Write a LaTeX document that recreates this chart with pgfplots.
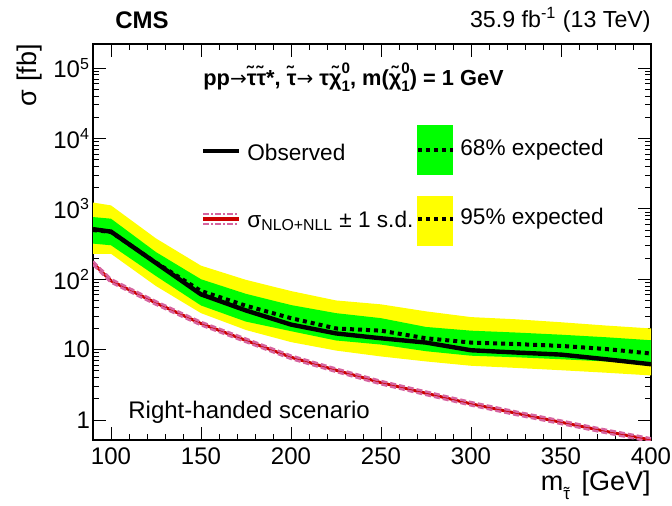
\documentclass[border=0pt]{standalone}
\usepackage{fontspec}
\setmainfont{Liberation Sans}
\newfontfamily\arrowfont{DejaVu Sans}
\usepackage{pgfplots}
\pgfplotsset{compat=1.18}
\usepgfplotslibrary{fillbetween}
\usepackage{pgfplotstable}

\definecolor{band68}{RGB}{0,255,0}
\definecolor{band95}{RGB}{255,255,0}
\definecolor{theo}{RGB}{204,0,0}
\definecolor{theoband}{RGB}{214,100,160}

\newcommand\fs[1]{\fontsize{#1}{#1}\selectfont}
% stacked super/subscript, as in chi^0_1
\newcommand\supsub[2]{\raisebox{-3.2pt}{\fs{7.6}\shortstack[l]{#1\\[0.6pt]#2}}}
% tau with a tilde over it, for the axis subscript
\newcommand\tildetau{\ooalign{τ\cr\hidewidth\raisebox{-0.05em}{˜}\hidewidth\cr}}
\newcommand\arr{{\arrowfont\mdseries\fs{10}→}}

% limits: observed, expected and the 68%/95% expected bands
\pgfplotstableread{
m    obs   exp   up1   dn1   up2   dn2
90   515   500   765   321   1230  230
100  475   470   725   304   1120  230
125  170   172   243   111   380   80
150  61    68    100   42.4  156   33
175  36    42    62    25    98    19
200  22.7  28    43    18.3  68    12.8
225  17    20    33    13.5  50    9.7
250  14.5  18.6  28    11.8  44    8
275  12.6  14.5  21    9.5   35    6.8
300  9.8   12.6  18.6  8.2   29    5.9
325  9.1   12    17.5  7.8   27    5.5
350  8.5   11.3  16.3  7.3   24.5  5.1
375  7.3   10.2  15    6.8   22    4.7
400  6.2   8.8   13.6  6.3   20    4.3
}\limits

% NLO+NLL cross section with its +-1 s.d. band
\pgfplotstableread{
m    xs     up     dn
90   170    180    161
100  95     100.5  89.8
125  46     48.6   43.5
150  23.5   24.8   22.2
175  13.5   14.3   12.8
200  7.8    8.24   7.38
225  5.1    5.39   4.83
250  3.4    3.59   3.22
275  2.4    2.54   2.27
300  1.7    1.80   1.61
325  1.25   1.32   1.18
350  0.93   0.983  0.880
375  0.69   0.729  0.653
400  0.52   0.550  0.492
}\theory

\begin{document}
\begin{tikzpicture}
\begin{axis}[
  name=ax,
  at={(0,0)}, anchor=south west,
  scale only axis,
  width=279pt, height=198pt,
  ymode=log,
  xmin=90, xmax=400,
  ymin=0.52, ymax=2.2e5,
  xtick={100,150,...,400},
  minor x tick num=4,
  ytick={1,10,100,1000,10000,100000},
  yticklabels={1,10,10\textsuperscript{2},10\textsuperscript{3},10\textsuperscript{4},10\textsuperscript{5}},
  tick align=inside,
  tick pos=both,
  major tick length=6.5pt,
  minor tick length=3.2pt,
  every tick/.style={black, line width=0.5pt},
  axis line style={line width=0.8pt},
  /pgf/number format/assume math mode=true,
  ticklabel style={font=\fs{12}},
  xticklabel style={yshift=-0.5pt},
  yticklabel style={xshift=2pt},
  clip=true,
]
\addplot[name path=u2, draw=none] table[x=m, y=up2] {\limits};
\addplot[name path=d2, draw=none] table[x=m, y=dn2] {\limits};
\addplot[band95, draw=none] fill between[of=u2 and d2];
\addplot[name path=u1, draw=none] table[x=m, y=up1] {\limits};
\addplot[name path=d1, draw=none] table[x=m, y=dn1] {\limits};
\addplot[band68, draw=none] fill between[of=u1 and d1];
\addplot[black, line width=2pt, dash pattern=on 2pt off 2pt] table[x=m, y=exp] {\limits};
\addplot[black, line width=2.2pt] table[x=m, y=obs] {\limits};
\addplot[theo, line width=1.5pt] table[x=m, y=xs] {\theory};
\addplot[theoband, line width=1.2pt, dash pattern=on 3pt off 1.5pt] table[x=m, y=up] {\theory};
\addplot[theoband, line width=1.2pt, dash pattern=on 3pt off 1.5pt] table[x=m, y=dn] {\theory};
\end{axis}

% annotations and legend, positioned on a grid of half-point units
\begin{scope}[shift={(0,198pt)}, x=0.5pt, y=-0.5pt, shift={(-93,-44)}]
  \node[anchor=base west, font=\bfseries\fs{12}, inner sep=0] at (115,28) {CMS};
  \node[anchor=base east, font=\fs{11.6}, inner sep=0] at (651,27) {35.9 fb\textsuperscript{-1} (13 TeV)};
  \node[anchor=base west, font=\bfseries\fs{10.9}, inner sep=0] at (203,85)
    {pp\arr τ̃τ̃*, τ̃\arr\ τχ̃\supsub{0}{1}, m(χ̃\supsub{0}{1}) = 1 GeV};

  % legend
  \draw[black, line width=2.2pt] (203,151) -- (239,151);
  \node[anchor=west, font=\fs{11.3}, inner sep=0] at (247,152) {Observed};

  \fill[band68] (417,125) rectangle (453,175);
  \draw[black, line width=2pt, dash pattern=on 2pt off 2pt] (418,150) -- (453,150);
  \node[anchor=west, font=\fs{11.3}, inner sep=0] at (460,150) {68\% expected};

  \fill[band95] (417,196) rectangle (453,246);
  \draw[black, line width=2pt, dash pattern=on 2pt off 2pt] (418,219) -- (453,219);
  \node[anchor=west, font=\fs{11.3}, inner sep=0] at (460,219) {95\% expected};

  \draw[theoband, line width=1pt, dash pattern=on 3pt off 1pt on 1pt off 1pt] (203,214) -- (239,214);
  \draw[theoband, line width=1pt, dash pattern=on 3pt off 1pt on 1pt off 1pt] (203,224) -- (239,224);
  \draw[theo, line width=1.6pt] (203,219) -- (239,219);
  \node[anchor=west, font=\fs{11.3}, inner sep=0] at (247,221) {σ\textsubscript{NLO+NLL} ± 1 s.d.};

  \node[anchor=base west, font=\fs{12}, inner sep=0] at (128,418) {Right-handed scenario};

  % axis titles
  \node[anchor=base east, font=\fs{13.5}, inner sep=0] at (651,490)
    {m\raisebox{-4.5pt}{\fs{8.5}\tildetau}\hspace{2pt} [GeV]};
  \node[rotate=90, anchor=base east, font=\fs{13.5}, inner sep=0] at (37,44) {σ [fb]};

  \pgfresetboundingbox
  \path[use as bounding box] (0,0) rectangle (672,505);
\end{scope}
\end{tikzpicture}
\end{document}
